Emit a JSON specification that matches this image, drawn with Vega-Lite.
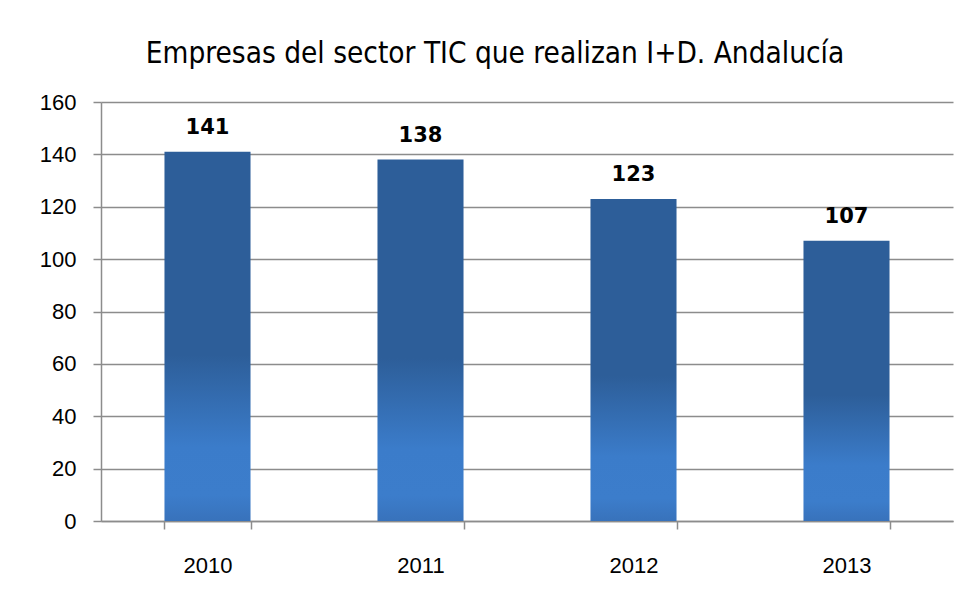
{
  "$schema": "https://vega.github.io/schema/vega-lite/v6.json",
  "autosize": {"type": "none"},
  "width": 852,
  "height": 419,
  "padding": {"left": 101, "top": 102, "right": 18, "bottom": 78},
  "background": "white",
  "title": {
    "text": "Empresas del sector TIC que realizan I+D. Andalucía",
    "font": "DejaVu Sans Condensed",
    "fontSize": 29.5,
    "fontWeight": "normal",
    "color": "#000000",
    "anchor": "middle",
    "dx": -32,
    "offset": 22
  },
  "data": {
    "values": [
      {"year": "2010", "value": 141},
      {"year": "2011", "value": 138},
      {"year": "2012", "value": 123},
      {"year": "2013", "value": 107}
    ]
  },
  "encoding": {
    "x": {
      "field": "year",
      "type": "nominal",
      "scale": {"paddingInner": 0.596, "paddingOuter": 0.298},
      "axis": {
        "title": null,
        "labelAngle": 0,
        "labelFont": "Liberation Sans",
        "labelFontSize": 22,
        "labelColor": "#000000",
        "tickBand": "extent",
        "tickSize": 8,
        "tickColor": "#8c8c8c",
        "tickWidth": 1.5,
        "domainColor": "#8c8c8c",
        "domainWidth": 1.5,
        "labelPadding": 26,
        "grid": false
      }
    },
    "y": {
      "field": "value",
      "type": "quantitative",
      "scale": {"domain": [0, 160]},
      "axis": {
        "title": null,
        "values": [0, 20, 40, 60, 80, 100, 120, 140, 160],
        "labelFont": "Liberation Sans",
        "labelFontSize": 22,
        "labelColor": "#000000",
        "tickSize": 8,
        "tickColor": "#8c8c8c",
        "tickWidth": 1.5,
        "domainColor": "#8c8c8c",
        "domainWidth": 1.5,
        "gridColor": "#8c8c8c",
        "gridWidth": 1.5,
        "labelPadding": 17
      }
    }
  },
  "layer": [
    {
      "mark": {
        "type": "bar",
        "color": {
          "gradient": "linear",
          "x1": 0, "y1": 0, "x2": 0, "y2": 1,
          "stops": [
            {"offset": 0, "color": "#2d5e99"},
            {"offset": 0.55, "color": "#2d5e99"},
            {"offset": 0.8, "color": "#3b7cca"},
            {"offset": 0.93, "color": "#3c7dcb"},
            {"offset": 1, "color": "#3872bb"}
          ]
        }
      }
    },
    {
      "mark": {
        "type": "text",
        "baseline": "alphabetic",
        "dy": -18,
        "font": "DejaVu Sans",
        "fontWeight": "bold",
        "fontSize": 21,
        "color": "#000000"
      },
      "encoding": {"text": {"field": "value", "type": "quantitative"}}
    }
  ],
  "config": {
    "view": {"stroke": null}
  }
}
